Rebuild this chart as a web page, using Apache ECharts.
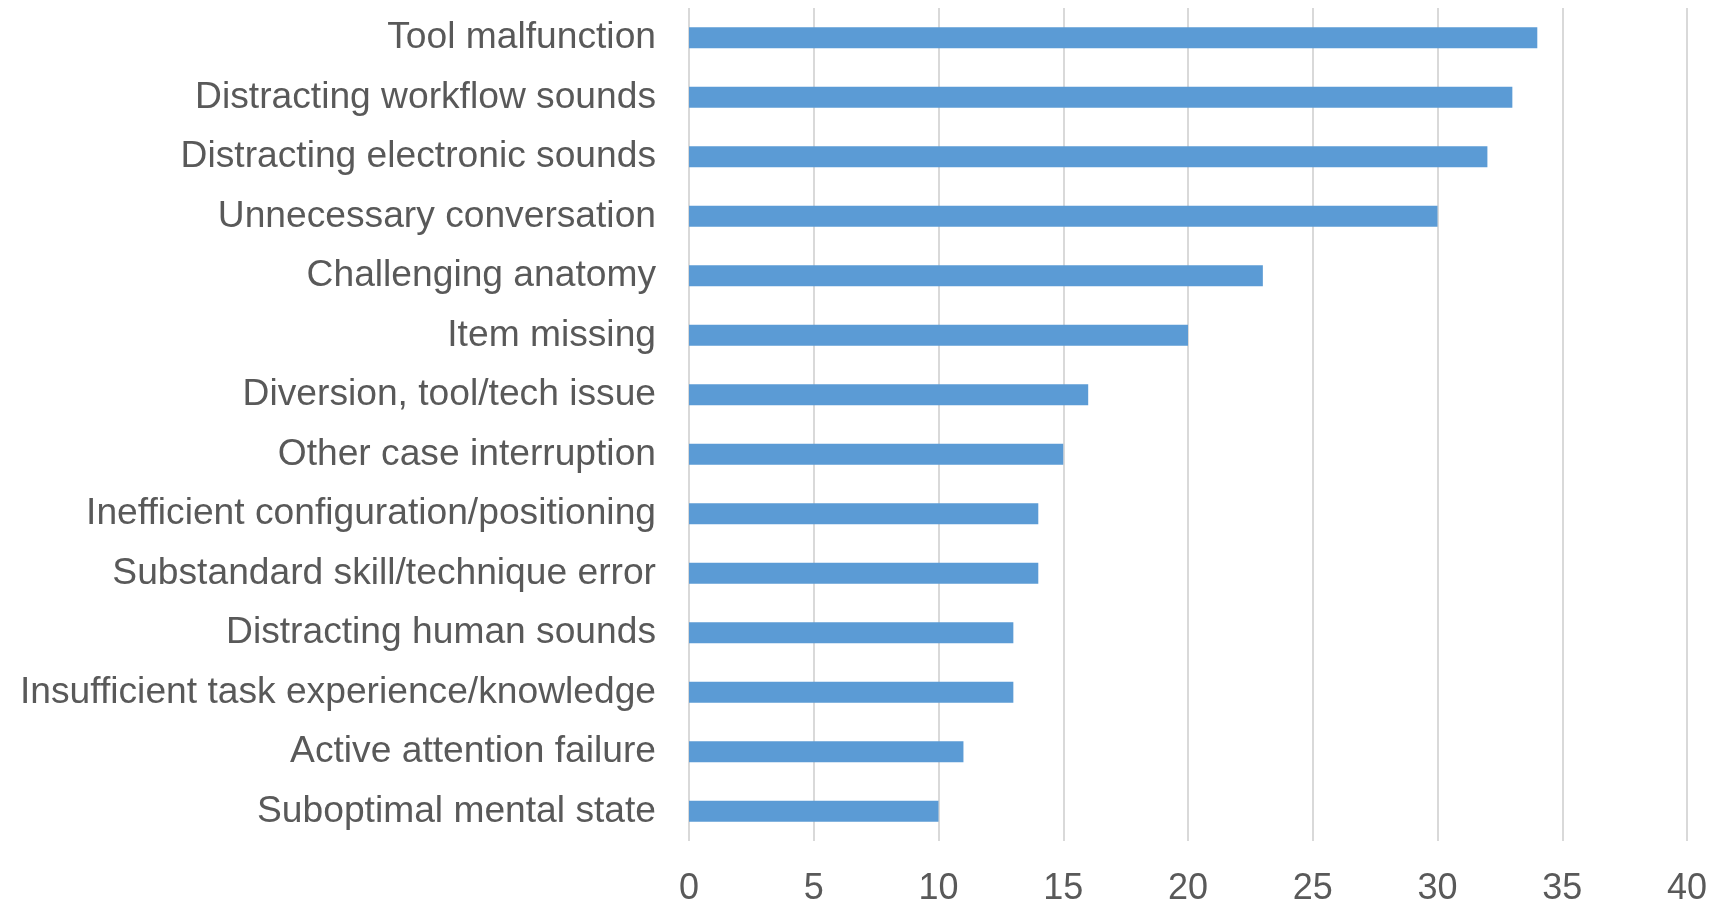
<!DOCTYPE html>
<html>
<head>
<meta charset="utf-8">
<script src="https://cdn.jsdelivr.net/npm/echarts@6/dist/echarts.min.js"></script>
<style>
  html, body { margin: 0; padding: 0; background: #ffffff; }
  #chart { width: 1714px; height: 904px; }
</style>
</head>
<body>
<div id="chart"></div>
<script>
// Contributing factors, listed from most to least frequent
const categories = [
  'Tool malfunction',
  'Distracting workflow sounds',
  'Distracting electronic sounds',
  'Unnecessary conversation',
  'Challenging anatomy',
  'Item missing',
  'Diversion, tool/tech issue',
  'Other case interruption',
  'Inefficient configuration/positioning',
  'Substandard skill/technique error',
  'Distracting human sounds',
  'Insufficient task experience/knowledge',
  'Active attention failure',
  'Suboptimal mental state'
];
const counts = [34, 33, 32, 30, 23, 20, 16, 15, 14, 14, 13, 13, 11, 10];
const xTicks = { min: 0, max: 40, interval: 5 };

const fontFamily = 'Arial, "Liberation Sans", sans-serif';
const textColor = '#595959';

const chart = echarts.init(document.getElementById('chart'), null, { renderer: 'canvas' });
chart.setOption({
  animation: false,
  backgroundColor: '#ffffff',
  grid: { left: 689, right: 27, top: 8, bottom: 63, containLabel: false, outerBoundsMode: 'none' },
  xAxis: {
    type: 'value',
    min: xTicks.min,
    max: xTicks.max,
    interval: xTicks.interval,
    axisLine: { show: false },
    axisTick: { show: false },
    splitLine: { show: true, lineStyle: { color: '#d9d9d9', width: 2 } },
    axisLabel: { color: textColor, fontSize: 36, fontFamily: fontFamily, margin: 30 }
  },
  yAxis: {
    type: 'category',
    data: categories,
    inverse: true,
    axisLine: { show: false },
    axisTick: { show: false },
    axisLabel: { color: textColor, fontSize: 37.2, fontFamily: fontFamily, margin: 33, padding: [6, 0, 0, 0] }
  },
  series: [{
    type: 'bar',
    data: counts,
    barWidth: 21,
    itemStyle: { color: '#5b9bd5' }
  }]
});
</script>
</body>
</html>
